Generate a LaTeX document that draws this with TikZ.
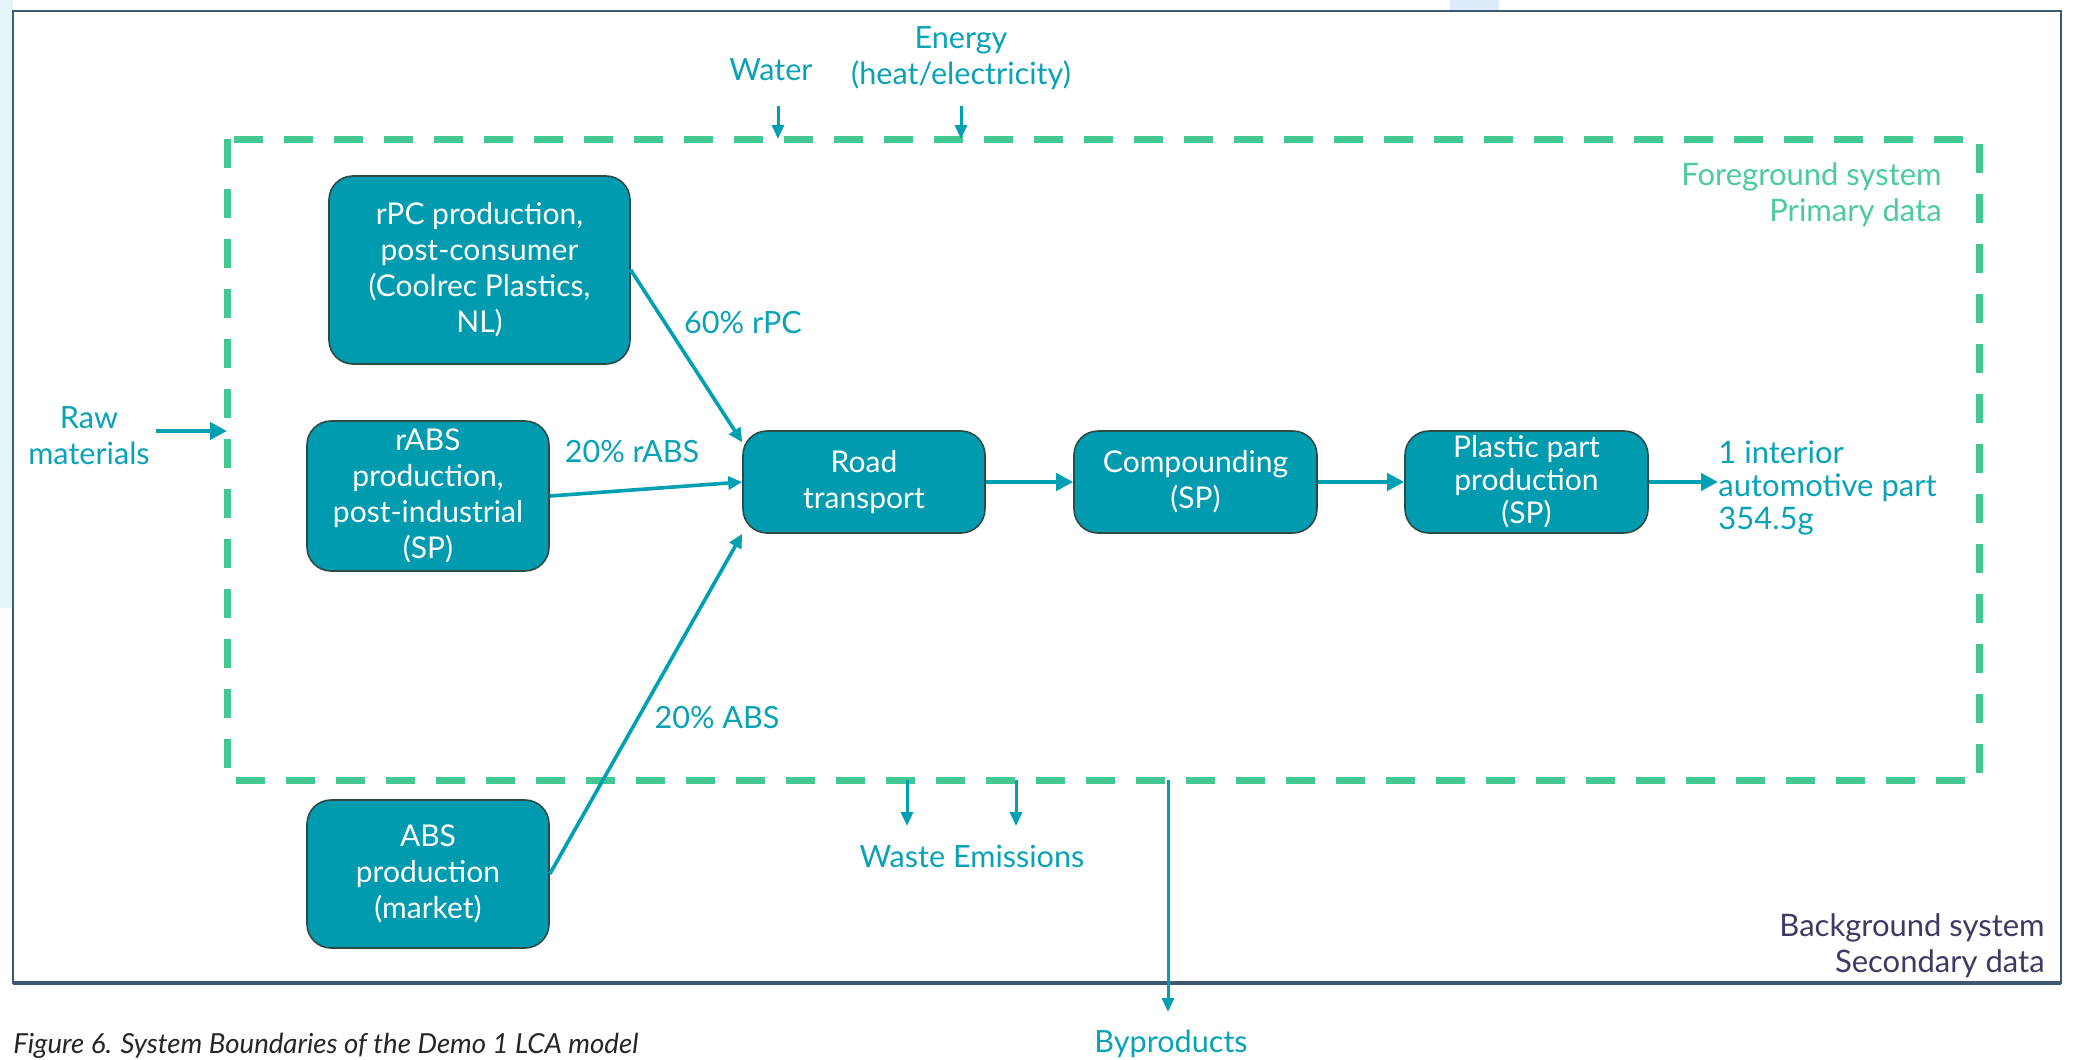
\documentclass[tikz,border=0pt]{standalone}
\usepackage{fontspec}
\setmainfont{Lato}
\usetikzlibrary{arrows.meta}
\definecolor{boxteal}{HTML}{009BAF}
\definecolor{boxedge}{HTML}{2E4A45}
\definecolor{flowteal}{HTML}{00A0B4}
\definecolor{labelteal}{HTML}{0AA2B6}
\definecolor{dashgreen}{HTML}{43C894}
\definecolor{fgtext}{HTML}{4CCAA0}
\definecolor{frameblue}{HTML}{3E5A72}
\definecolor{bgtext}{HTML}{3F3A63}
\definecolor{lightbg}{HTML}{E4F4F8}
\definecolor{lightbgb}{HTML}{DDEBFB}
\begin{document}
\begin{tikzpicture}[x=0.5pt,y=-0.5pt,
  proc/.style={draw=boxedge, line width=0.8pt, fill=boxteal, rounded corners=12pt,
    text=white, align=center, font=\fontsize{15}{18}\selectfont, inner sep=0pt},
  flow/.style={draw=flowteal, line width=2.4pt, -{Triangle[length=8.5pt,width=8.5pt]}},
  diag/.style={draw=flowteal, line width=1.8pt, -{Triangle[length=7pt,width=6.5pt]}},
  small/.style={draw=flowteal, line width=1.5pt, -{Triangle[length=7pt,width=6pt]}},
  lbl/.style={text=labelteal, font=\fontsize{15.3}{18}\selectfont, inner sep=0pt, align=center}
]
\useasboundingbox (0,0) rectangle (2074,1060);
\fill[white] (0,0) rectangle (2074,1060);
\fill[lightbg] (0,0) rectangle (13,608);
\fill[lightbgb] (1450,0) rectangle (1499,11);

% outer frame
\draw[frameblue, line width=1.1pt] (13,11) rectangle (2061,983);
\draw[frameblue, line width=2pt] (13,983) -- (2061,983);

% foreground dashed boundary
\draw[dashgreen, line width=3.5pt, dash pattern=on 14.5pt off 10.5pt] (227,139) rectangle (1979,780);

% process boxes
\node[proc, minimum width=150.5pt, minimum height=94pt] (rpc) at (479.5,270) {rPC production,\\post-consumer\\(Coolrec Plastics,\\NL)};
\node[proc, minimum width=121pt, minimum height=75pt] (rabs) at (428,496) {rABS\\production,\\post-industrial\\(SP)};
\node[proc, minimum width=121pt, minimum height=74pt] (abs) at (428,874) {ABS\\production\\(market)};
\node[proc, minimum width=121pt, minimum height=51pt] (road) at (864,482) {Road\\transport};
\node[proc, minimum width=121.5pt, minimum height=51pt] (comp) at (1195.5,482) {Compounding\\(SP)};
\node[proc, minimum width=121.5pt, minimum height=51pt, font=\fontsize{15}{16.5}\selectfont] (plast) at (1526.5,482) {Plastic part\\production\\(SP)};

% output
\node[lbl, anchor=west, align=left, font=\fontsize{15.5}{16.5}\selectfont] (out) at (1718,488) {1 interior\\automotive part\\354.5g};

% texts
\node[lbl] (raw) at (89,436) {Raw\\materials};
\node[lbl] (water) at (771,70) {Water};
\node[lbl] (energy) at (961,58) {Energy\\(heat/electricity)};
\node[lbl] (waste) at (972,856) {Waste Emissions};
\node[lbl] (byp) at (1171,1044) {Byproducts};
\node[lbl] (l60) at (743,323) {60\% rPC};
\node[lbl] (l20r) at (632,452) {20\% rABS};
\node[lbl] (l20a) at (717,718) {20\% ABS};
\node[text=fgtext, font=\fontsize{15.5}{18}\selectfont, inner sep=0pt, align=right, anchor=east] (fg) at (1942,195) {Foreground system\\Primary data};
\node[text=bgtext, font=\fontsize{15.5}{18}\selectfont, inner sep=0pt, align=right, anchor=east] (bg) at (2045,946) {Background system\\Secondary data};

% coordinates for free arrow ends
\coordinate (rawa) at (156,431);
\coordinate (rawb) at (227,431);
\coordinate (wa) at (778,106);
\coordinate (wb) at (778,139);
\coordinate (ea) at (961,106);
\coordinate (eb) at (961,139);
\coordinate (w1a) at (907,780);
\coordinate (w1b) at (907,826);
\coordinate (w2a) at (1016,780);
\coordinate (w2b) at (1016,826);
\coordinate (ba) at (1168,780);
\coordinate (bb) at (1168,1012);

% connectors
\draw[diag] (rpc.east) -- ([yshift=-6pt]road.north west);
\draw[diag] (rabs.east) -- (road.west);
\draw[diag] (abs.east) -- (road.south west);
\draw[flow] (road) -- (comp);
\draw[flow] (comp) -- (plast);
\draw[flow] (plast.east) -- (plast.east -| out.west);
\draw[flow] (rawa) -- (rawb);
\draw[small] (wa) -- (wb);
\draw[small] (ea) -- (eb);
\draw[small] (w1a) -- (w1b);
\draw[small] (w2a) -- (w2b);
\draw[small] (ba) -- (bb);

% caption
\node[anchor=base west, font=\fontsize{13.8}{16}\selectfont\itshape, text=black!85, inner sep=0pt] (cap) at (13,1053) {Figure 6. System Boundaries of the Demo 1 LCA model};
\end{tikzpicture}
\end{document}
